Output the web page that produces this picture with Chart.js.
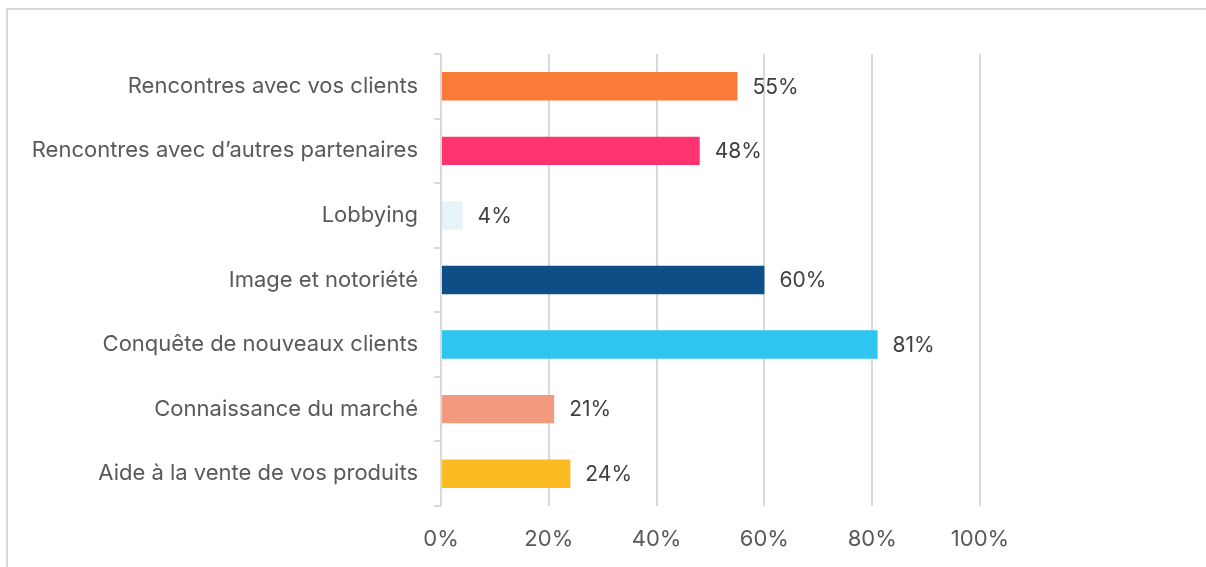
<!DOCTYPE html>
<html>
<head>
<meta charset="utf-8">
<script src="https://cdn.jsdelivr.net/npm/chart.js@4.4.1/dist/chart.umd.min.js"></script>
<style>
  body { margin: 0; background: #fff; }
  #frame { position: absolute; left: 6px; top: 8px; width: 1400px; height: 700px;
           border-top: 2px solid #d9d9d9; border-left: 2px solid #d9d9d9; }
  #wrap { position: absolute; left: 0; top: 0; width: 1206px; height: 567px; }
</style>
</head>
<body>
<div id="frame"></div>
<div id="wrap"><canvas id="barCanvas"></canvas></div>
<script>
var categories = [
    "Rencontres avec vos clients",
    "Rencontres avec d\u2019autres partenaires",
    "Lobbying",
    "Image et notori\u00e9t\u00e9",
    "Conqu\u00eate de nouveaux clients",
    "Connaissance du march\u00e9",
    "Aide \u00e0 la vente de vos produits"
];
var shares = [55, 48, 4, 60, 81, 21, 24];
var barColors = ['#FA7B38', '#FF3370', '#E5F4F7', '#0E4E87', '#2EC5F0', '#F39A7E', '#FBBA21'];
var xTicks = [0, 20, 40, 60, 80, 100];

var fontFamily = "Inter, sans-serif";

var valueLabels = {
    id: 'valueLabels',
    afterDatasetsDraw: function (chart) {
        var ctx = chart.ctx,
            meta = chart.getDatasetMeta(0);
        ctx.save();
        ctx.font = '21px ' + fontFamily;
        ctx.fillStyle = '#404040';
        ctx.textAlign = 'left';
        ctx.textBaseline = 'middle';
        meta.data.forEach(function (bar, i) {
            ctx.fillText(shares[i] + '%', bar.x + 15, bar.y + 1);
        });
        ctx.restore();
    }
};

var ctx = document.getElementById('barCanvas').getContext('2d');
var chart = new Chart(ctx, {
    type: 'bar',
    data: {
        labels: categories,
        datasets: [{
            data: shares,
            backgroundColor: barColors,
            borderWidth: 0,
            categoryPercentage: 0.44,
            barPercentage: 1
        }]
    },
    options: {
        indexAxis: 'y',
        responsive: true,
        maintainAspectRatio: false,
        animation: false,
        layout: { padding: { top: 54, right: 226, bottom: 0, left: 0 } },
        plugins: { legend: { display: false }, tooltip: { enabled: false } },
        scales: {
            x: {
                min: 0,
                max: 100,
                afterBuildTicks: function (scale) {
                    scale.ticks = xTicks.map(function (v) { return { value: v }; });
                },
                afterFit: function (scale) { scale.height = 61; },
                grid: { color: '#d9d9d9', lineWidth: 2, drawTicks: false },
                border: { display: false },
                ticks: {
                    padding: 20,
                    color: '#595959',
                    font: { family: fontFamily, size: 22 },
                    callback: function (v) { return v + '%'; }
                }
            },
            y: {
                afterFit: function (scale) { scale.width = 441; },
                grid: { drawOnChartArea: false, color: '#d9d9d9', lineWidth: 2, tickLength: 7 },
                border: { display: true, color: '#d9d9d9', width: 2 },
                ticks: {
                    padding: 16,
                    color: '#595959',
                    font: { family: fontFamily, size: 22 }
                }
            }
        }
    },
    plugins: [valueLabels]
});
</script>
</body>
</html>
